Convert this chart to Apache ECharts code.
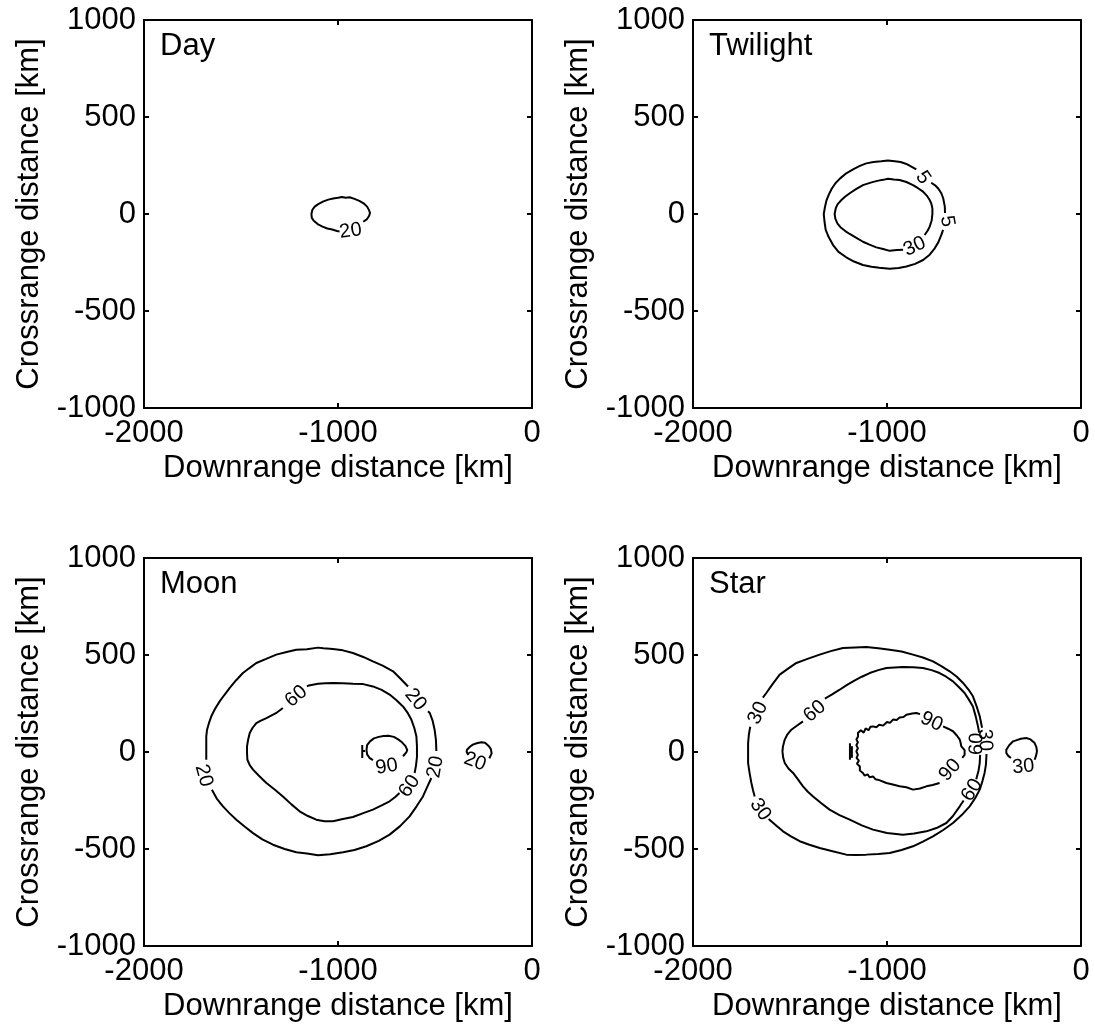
<!DOCTYPE html>
<html>
<head>
<meta charset="utf-8">
<script src="https://cdn.jsdelivr.net/npm/echarts@6/dist/echarts.min.js"></script>
<style>
html,body{margin:0;padding:0;background:#fff;}
#chart{width:1095px;height:1029px;}
</style>
</head>
<body>
<div id="chart"></div>
<script>
// ---------------- data (km) ----------------
const panelTitles = ['Day', 'Twilight', 'Moon', 'Star'];
const xTickValues = [-2000, -1000, 0];
const yTickValues = [-1000, -500, 0, 500, 1000];
const xAxisName = 'Downrange distance [km]';
const yAxisName = 'Crossrange distance [km]';

// contour paths; null marks a gap (where an inline label sits)
const dayContour20 = [
  [-870,-40],[-852,-28],[-840,-10],[-835,5],[-840,20],[-850,38],[-868,55],[-890,68],[-915,78],[-940,86],
  [-960,84],[-980,88],[-1000,84],[-1025,80],[-1050,74],[-1075,65],[-1100,52],[-1120,38],[-1132,22],
  [-1137,0],[-1135,-20],[-1125,-35],[-1105,-52],[-1080,-65],[-1055,-75],[-1030,-80],[-1005,-88],[-992,-90]
];

const twilightContour5 = [
  [-849,230],[-870,242],[-900,258],[-930,268],[-960,272],[-995,276],[-1030,272],[-1070,268],[-1107,261],
  [-1140,248],[-1175,230],[-1210,210],[-1240,185],[-1265,160],[-1285,130],[-1300,100],[-1312,70],[-1320,35],
  [-1326,0],[-1322,-40],[-1316,-82],[-1300,-120],[-1278,-160],[-1250,-195],[-1210,-223],[-1170,-245],
  [-1124,-263],[-1080,-272],[-1040,-277],[-986,-282],[-940,-278],[-900,-271],[-855,-257],[-814,-237],
  [-780,-210],[-754,-177],[-735,-145],[-720,-108],[-711,-82],
  null,
  [-701,5],[-702,38],[-710,80],[-720,107],[-735,130],[-752,148],[-772,161]
];
const twilightContour30 = [
  [-806,-108],[-790,-85],[-780,-65],[-770,-35],[-766,0],[-766,29],[-772,55],[-780,72],[-795,95],[-814,115],
  [-840,133],[-866,149],[-900,165],[-935,175],[-965,178],[-995,182],[-1020,176],[-1045,172],[-1080,163],
  [-1124,149],[-1160,128],[-1192,107],[-1215,90],[-1235,72],[-1255,50],[-1264,30],[-1270,0],[-1266,-25],
  [-1255,-50],[-1240,-68],[-1215,-88],[-1192,-103],[-1160,-122],[-1124,-143],[-1090,-158],[-1055,-172],
  [-1020,-180],[-986,-190],[-950,-185],[-917,-184]
];

const moonContour20 = [
  [-639,338],[-680,380],[-716,416],[-770,445],[-820,467],[-870,490],[-923,510],[-975,524],[-1026,531],
  [-1075,535],[-1103,538],[-1160,530],[-1215,527],[-1265,515],[-1318,502],[-1370,480],[-1421,459],
  [-1460,430],[-1490,407],[-1525,370],[-1558,330],[-1585,295],[-1610,261],[-1635,220],[-1653,184],
  [-1665,150],[-1675,115],[-1679,80],[-1679,46],[-1679,0],[-1679,-40],
  null,
  [-1650,-195],[-1625,-240],[-1593,-280],[-1560,-315],[-1524,-349],[-1480,-385],[-1438,-418],[-1390,-450],
  [-1335,-478],[-1275,-500],[-1215,-517],[-1160,-523],[-1103,-532],[-1040,-527],[-974,-517],[-915,-505],
  [-854,-486],[-790,-458],[-734,-426],[-680,-382],[-631,-332],[-595,-280],[-562,-229],[-540,-180],[-519,-134],
  null,
  [-493,5],[-495,60],[-502,115],[-512,160],[-527,201],[-536,210]
];
const moonContour60 = [
  [-1284,227],[-1320,200],[-1369,175],[-1400,160],[-1421,149],[-1440,125],[-1455,98],[-1463,65],[-1469,29],
  [-1469,-5],[-1467,-40],[-1455,-68],[-1438,-91],[-1405,-125],[-1369,-160],[-1325,-195],[-1284,-229],
  [-1240,-270],[-1198,-306],[-1155,-330],[-1112,-349],[-1070,-357],[-1026,-357],[-975,-345],[-923,-335],
  [-870,-315],[-820,-297],[-775,-275],[-734,-254],[-705,-232],[-683,-211],
  null,
  [-605,-108],[-598,-70],[-593,-26],[-593,30],[-596,81],[-607,125],[-622,167],[-640,200],[-665,235],
  [-700,268],[-734,296],[-775,320],[-820,338],[-870,350],[-923,352],[-975,355],[-1026,356],[-1065,355],
  [-1103,352],[-1150,343],[-1160,338]
];
const moonContour90 = [
  [-665,-22],[-648,-2],[-643,10],[-652,30],[-670,50],[-690,65],[-712,78],[-740,84],[-765,82],[-790,78],
  [-815,70],[-835,55],[-850,35],[-853,10],[-850,-12],[-838,-30],[-820,-42],
  null,
  [-875,36],[-875,-31],
  null,
  [-875,5],[-860,5]
];
const moonBlob20 = [
  [-220,-33],[-208,-7],[-212,15],[-222,30],[-242,48],[-262,50],[-285,45],[-305,38],[-320,27],[-335,12],
  [-337,0],[-328,-15]
];

const starContour30 = [
  [-510,125],[-522,184],[-538,235],[-557,287],[-580,322],[-608,356],[-640,388],[-677,416],[-720,443],
  [-763,467],[-815,487],[-866,502],[-925,518],[-986,527],[-1045,535],[-1107,541],[-1165,539],[-1227,536],
  [-1290,520],[-1347,502],[-1410,480],[-1467,459],[-1510,430],[-1553,399],[-1590,350],[-1622,304],[-1640,280],
  null,
  [-1705,130],[-1712,90],[-1716,46],[-1716,0],[-1716,-57],[-1708,-110],[-1699,-160],[-1690,-200],[-1682,-229],
  null,
  [-1610,-345],[-1570,-380],[-1536,-409],[-1495,-435],[-1450,-460],[-1400,-478],[-1347,-495],[-1280,-512],
  [-1210,-529],[-1160,-531],[-1107,-529],[-1045,-526],[-986,-521],[-925,-505],[-866,-486],[-815,-462],
  [-763,-435],[-710,-402],[-660,-366],[-615,-325],[-574,-280],[-545,-237],[-522,-194],[-508,-150],
  [-497,-108],[-490,-65],[-487,-10]
];
const starContour60 = [
  [-1433,158],[-1465,135],[-1493,115],[-1515,88],[-1527,64],[-1536,30],[-1539,3],[-1535,-30],[-1527,-57],
  [-1508,-85],[-1484,-108],[-1460,-140],[-1433,-177],[-1408,-205],[-1381,-229],[-1340,-263],[-1296,-297],
  [-1245,-325],[-1192,-349],[-1130,-378],[-1072,-400],[-1000,-418],[-918,-426],[-860,-420],[-797,-409],
  [-745,-392],[-694,-366],[-660,-330],[-625,-280],[-605,-250],
  null,
  [-540,-140],[-528,-95],[-522,-57],[-520,-15],
  null,
  [-525,100],[-531,132],[-543,185],[-557,235],[-578,270],[-600,304],[-630,335],[-660,364],[-695,388],
  [-729,407],[-770,422],[-815,433],[-865,437],[-918,438],[-960,436],[-1003,433],[-1045,422],[-1089,407],
  [-1130,388],[-1175,364],[-1210,343],[-1244,321],[-1285,296],[-1320,275]
];
const starContour90 = [
  [-711,132],[-685,120],[-660,107],[-640,85],[-625,64],[-620,45],[-617,29],[-600,10],[-594,3],[-600,-15],[-612,-30],
  null,
  [-729,-160],[-765,-170],[-797,-177],[-830,-188],[-866,-194],[-900,-182],[-935,-177],[-970,-168],[-1003,-160],
  [-1040,-145],[-1060,-140],[-1072,-126],[-1090,-130],[-1100,-115],[-1115,-122],[-1124,-108],[-1140,-95],
  [-1149,-91],[-1140,-75],[-1155,-60],[-1145,-45],[-1157,-30],[-1150,-15],[-1158,3],[-1150,20],[-1158,35],
  [-1150,50],[-1158,65],[-1149,80],[-1150,98],[-1135,112],[-1120,100],[-1110,122],[-1095,112],[-1085,130],
  [-1072,132],[-1055,128],[-1040,140],[-1020,136],[-1000,155],[-985,150],[-969,167],[-950,165],[-935,178],
  [-915,180],[-900,192],[-870,198],[-849,201],[-830,195]
];
const starTick = [
  [-1191,45],[-1191,-40],
  null,
  [-1181,30],[-1181,-30]
];
const starBlob30 = [
  [-239,-40],[-232,-20],[-227,3],[-230,25],[-239,46],[-260,65],[-282,72],[-310,68],[-335,60],[-350,55],
  [-370,35],[-385,12],[-385,-5],[-375,-20],[-361,-31]
];

// inline contour labels: [x, y, text]
const dayLabels = [[-935,-88,'20']];
const twilightLabels = [[-815,188,'5'],[-690,-37,'5'],[-857,-168,'30']];
const moonLabels = [[-600,270,'20'],[-497,-77,'20'],[-1692,-122,'20'],[-1215,287,'60'],[-631,-177,'60'],[-749,-76,'90'],[-294,-50,'20']];
const starLabels = [[-1665,201,'30'],[-1653,-297,'30'],[-495,62,'30'],[-1373,210,'60'],[-562,-196,'60'],[-537,42,'60'],[-770,156,'90'],[-675,-93,'90'],[-297,-76,'30']];
// label rotations (degrees, counter-clockwise), parallel to the label arrays
const dayLabelRot = [8];
const twilightLabelRot = [-55,-80,25];
const moonLabelRot = [-51,80,-75,40,55,10,-20];
const starLabelRot = [65,-55,-88,40,58,88,-25,48,5];

// ---------------- chart ----------------
const FONT = 'Arial, "Liberation Sans", Helvetica, sans-serif';
const panels = [
  {contours:[dayContour20], labels:dayLabels, rots:dayLabelRot},
  {contours:[twilightContour5, twilightContour30], labels:twilightLabels, rots:twilightLabelRot},
  {contours:[moonContour20, moonContour60, moonContour90, moonBlob20], labels:moonLabels, rots:moonLabelRot},
  {contours:[starContour30, starContour60, starContour90, starTick, starBlob30], labels:starLabels, rots:starLabelRot}
];
const gridPos = [
  {left:144, top:20}, {left:693, top:20},
  {left:144, top:558}, {left:693, top:558}
];
const PW = 388, PH = 388;

const grid = [], xAxis = [], yAxis = [], series = [], title = [];
const xMin = xTickValues[0], xMax = xTickValues[xTickValues.length-1];
const yMin = yTickValues[0], yMax = yTickValues[yTickValues.length-1];
const xInt = xTickValues[1] - xTickValues[0], yInt = yTickValues[1] - yTickValues[0];
const plainNum = v => String(v);

const lineStyleAxis = {color:'#000', width:2};
function splitSegments(arr) {
  const segs = []; let cur = [];
  arr.forEach(p => { if (p === null) { if (cur.length) segs.push(cur); cur = []; } else cur.push(p); });
  if (cur.length) segs.push(cur);
  return segs;
}

panels.forEach((p, i) => {
  const g = gridPos[i];
  grid.push({left:g.left, top:g.top, width:PW, height:PH, containLabel:false});
  const xBase = {
    type:'value', gridIndex:i, min:xMin, max:xMax, interval:xInt,
    splitLine:{show:false},
    axisLine:{show:true, onZero:false, lineStyle:lineStyleAxis},
    axisTick:{show:true, inside:true, length:5, lineStyle:lineStyleAxis}
  };
  xAxis.push(Object.assign({}, xBase, {
    position:'bottom',
    axisLabel:{show:true, color:'#000', fontSize:31, fontFamily:FONT, margin:10,
               showMinLabel:true, showMaxLabel:true, formatter:plainNum},
    name:xAxisName, nameLocation:'middle', nameGap:45,
    nameTextStyle:{color:'#000', fontSize:31, fontFamily:FONT}
  }));
  xAxis.push(Object.assign({}, xBase, {position:'top', axisLabel:{show:false}}));
  const yBase = {
    type:'value', gridIndex:i, min:yMin, max:yMax, interval:yInt,
    splitLine:{show:false},
    axisLine:{show:true, onZero:false, lineStyle:lineStyleAxis},
    axisTick:{show:true, inside:true, length:5, lineStyle:lineStyleAxis}
  };
  yAxis.push(Object.assign({}, yBase, {
    position:'left',
    axisLabel:{show:true, color:'#000', fontSize:31, fontFamily:FONT, margin:8,
               showMinLabel:true, showMaxLabel:true, formatter:plainNum},
    name:yAxisName, nameLocation:'middle', nameGap:99,
    nameTextStyle:{color:'#000', fontSize:31, fontFamily:FONT}
  }));
  yAxis.push(Object.assign({}, yBase, {position:'right', axisLabel:{show:false}}));

  p.contours.forEach(c => {
    splitSegments(c).forEach(seg => {
      series.push({
        type:'line', xAxisIndex:2*i, yAxisIndex:2*i, data:seg,
        symbol:'none', showSymbol:false, smooth:false, silent:true,
        lineStyle:{color:'#000', width:2, opacity:1}, z:2
      });
    });
  });
  series.push({
    type:'scatter', xAxisIndex:2*i, yAxisIndex:2*i, symbolSize:0, silent:true, z:3,
    itemStyle:{opacity:1},
    data:p.labels.map((l, k) => ({
      value:[l[0], l[1]],
      label:{show:true, formatter:l[2], rotate:p.rots[k], position:'inside',
             color:'#000', opacity:1, fontSize:20, fontFamily:FONT}
    }))
  });

  title.push({
    text:panelTitles[i], left:g.left + 16, top:g.top + 11, padding:0,
    textStyle:{color:'#000', fontSize:31, fontWeight:'normal', fontFamily:FONT}
  });
});

const chart = echarts.init(document.getElementById('chart'), null, {renderer:'canvas'});
chart.setOption({
  animation:false,
  backgroundColor:'#fff',
  title, grid, xAxis, yAxis, series
});
</script>
</body>
</html>
